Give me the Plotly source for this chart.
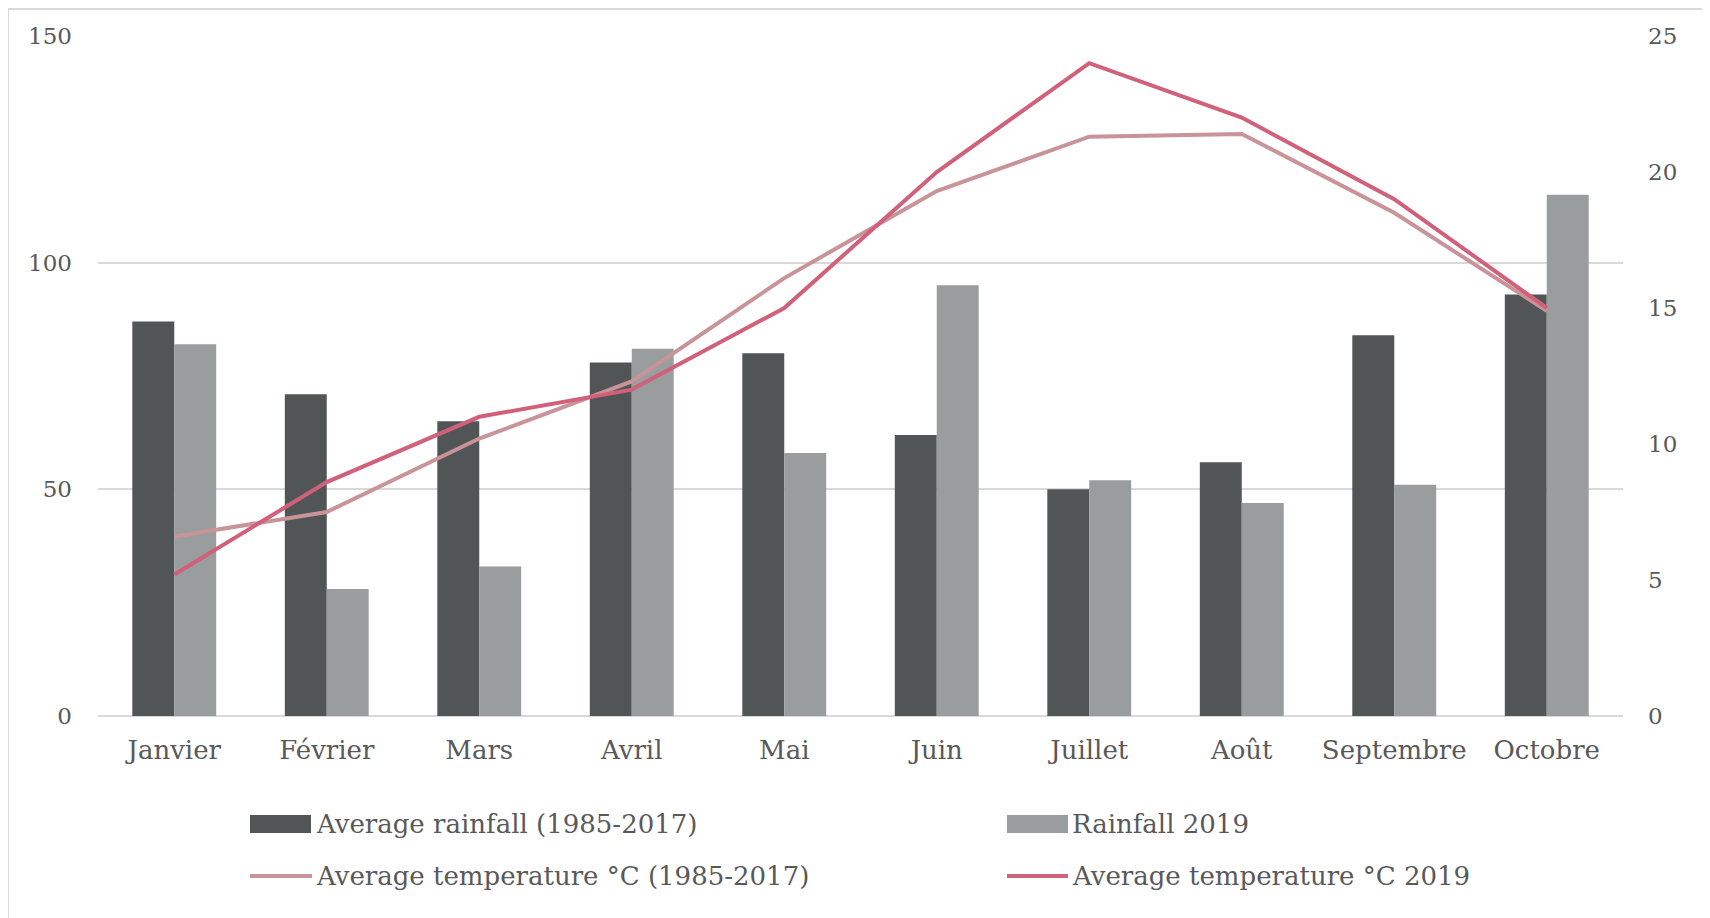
import plotly.graph_objects as go

months = ["Janvier", "Février", "Mars", "Avril", "Mai", "Juin", "Juillet", "Août", "Septembre", "Octobre"]
avg_rain = [87, 71, 65, 78, 80, 62, 50, 56, 84, 93]
rain_2019 = [82, 28, 33, 81, 58, 95, 52, 47, 51, 115]
avg_temp = [6.6, 7.5, 10.2, 12.3, 16.1, 19.3, 21.3, 21.4, 18.5, 14.9]
temp_2019 = [5.2, 8.6, 11.0, 12.0, 15.0, 20.0, 24.0, 22.0, 19.0, 15.0]

names = ["Average rainfall (1985-2017)", "Rainfall 2019",
         "Average temperature °C (1985-2017)", "Average temperature °C 2019"]

C_DARK = "#515555"
C_LIGHT = "#9a9d9d"
C_T_AVG = "#c9939a"
C_T_19 = "#d1607a"
TXT = "#595959"
GRID = "#d9d9d9"
FONT = "DejaVu Serif"

OFF = 8  # page body margin
W, H = 1702, 910
# plot area in page coordinates: x 98..1623, y 36..716
L, T = 98 - OFF, 36 - OFF
R = W - (1623 - OFF)
B = H - (716 - OFF)
PW, PH = W - L - R, H - T - B


def px(x):
    return (x - OFF - L) / PW


def py(y):
    return (H - B - (y - OFF)) / PH


fig = go.Figure()
fig.add_trace(go.Bar(x=months, y=avg_rain, name=names[0], marker=dict(color=C_DARK, line=dict(width=0)),
                     showlegend=False))
fig.add_trace(go.Bar(x=months, y=rain_2019, name=names[1], marker=dict(color=C_LIGHT, line=dict(width=0)),
                     showlegend=False))
fig.add_trace(go.Scatter(x=months, y=avg_temp, name=names[2], mode="lines", yaxis="y2",
                         line=dict(color=C_T_AVG, width=4), showlegend=False))
fig.add_trace(go.Scatter(x=months, y=temp_2019, name=names[3], mode="lines", yaxis="y2",
                         line=dict(color=C_T_19, width=4), showlegend=False))

shapes = []
# outer border (left and top edges visible)
shapes.append(dict(type="line", xref="paper", yref="paper", x0=px(8), x1=px(8), y0=py(9), y1=py(940),
                   line=dict(color=GRID, width=2)))
shapes.append(dict(type="line", xref="paper", yref="paper", x0=px(8), x1=px(1740), y0=py(9), y1=py(9),
                   line=dict(color=GRID, width=2)))
# custom legend symbols
shapes.append(dict(type="rect", xref="paper", yref="paper", x0=px(250), x1=px(311), y0=py(815), y1=py(833),
                   fillcolor=C_DARK, line=dict(width=0)))
shapes.append(dict(type="rect", xref="paper", yref="paper", x0=px(1007), x1=px(1068), y0=py(815), y1=py(833),
                   fillcolor=C_LIGHT, line=dict(width=0)))
shapes.append(dict(type="line", xref="paper", yref="paper", x0=px(250), x1=px(312), y0=py(876), y1=py(876),
                   line=dict(color=C_T_AVG, width=4)))
shapes.append(dict(type="line", xref="paper", yref="paper", x0=px(1007), x1=px(1068), y0=py(876), y1=py(876),
                   line=dict(color=C_T_19, width=4)))

annotations = []
for name, x, y in [(names[0], 314, 824), (names[1], 1070, 824), (names[2], 314, 876), (names[3], 1070, 876)]:
    annotations.append(dict(text=name, xref="paper", yref="paper", x=px(x), y=py(y), xanchor="left",
                            yanchor="middle", showarrow=False, font=dict(family=FONT, size=26, color=TXT)))

fig.update_layout(
    width=W, height=H,
    margin=dict(l=L, r=R, t=T, b=B, autoexpand=False),
    paper_bgcolor="white", plot_bgcolor="white",
    barmode="group", bargap=0.45, bargroupgap=0,
    font=dict(family=FONT, color=TXT, size=24),
    showlegend=False,
    shapes=shapes,
    annotations=annotations,
    xaxis=dict(type="category", showgrid=False, showline=False, ticks="", zeroline=False,
               tickfont=dict(family=FONT, size=26, color=TXT), ticklabelstandoff=16),
    yaxis=dict(range=[0, 150], dtick=50, tick0=0, showgrid=True, gridcolor=GRID, gridwidth=2,
               zeroline=True, zerolinecolor=GRID, zerolinewidth=2, showline=False, ticks="",
               tickfont=dict(family=FONT, size=23, color=TXT), ticklabelstandoff=25),
    yaxis2=dict(range=[0, 25], dtick=5, tick0=0, overlaying="y", side="right", showgrid=False,
                zeroline=False, showline=False, ticks="",
                tickfont=dict(family=FONT, size=23, color=TXT), ticklabelstandoff=24),
)

fig.write_html("out.html")
